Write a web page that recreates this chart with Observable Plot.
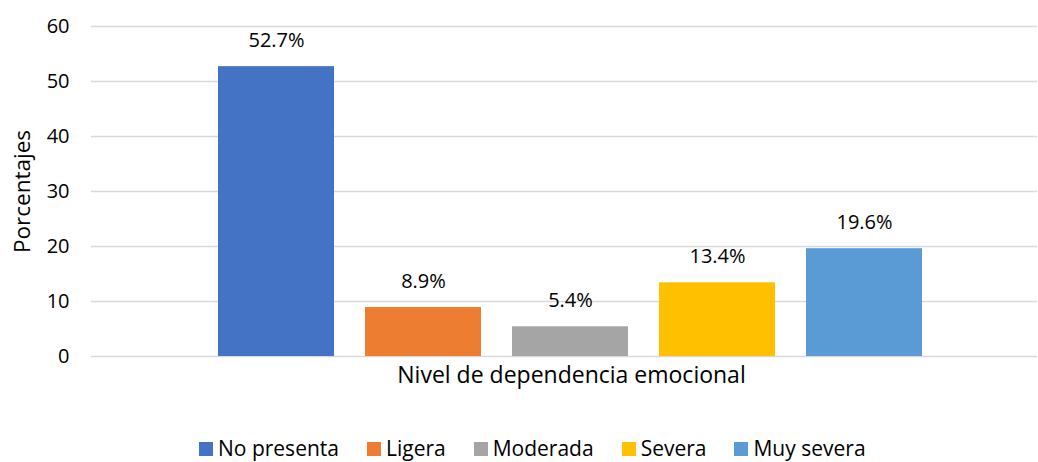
<!DOCTYPE html>
<html>
<head>
<meta charset="utf-8">
<script src="https://cdn.jsdelivr.net/npm/d3@7"></script>
<script src="https://cdn.jsdelivr.net/npm/@observablehq/plot@0.6"></script>
<style>
  body { margin: 0; background: #fff; font-family: "Open Sans", sans-serif; }
  #chart { width: 1038px; height: 462px; position: relative; }
  .legend { position: absolute; top: 434px; left: 199px; display: flex; font-size: 21px; color: #000; line-height: 29px; }
  .legend .item { display: flex; align-items: center; margin-right: 28px; }
  .legend .sw { width: 14px; height: 14px; margin-right: 5px; display: inline-block; }
</style>
</head>
<body>
<div id="chart"></div>
<script>
const categories = ["No presenta", "Ligera", "Moderada", "Severa", "Muy severa"];
const values = [52.7, 8.9, 5.4, 13.4, 19.6];
const colors = ["#4472C4", "#ED7D31", "#A5A5A5", "#FFC000", "#5B9BD5"];
const yTicks = [0, 10, 20, 30, 40, 50, 60];

const data = categories.map((c, i) => ({ category: c, value: values[i] }));

const plot = Plot.plot({
  width: 1038,
  height: 410,
  marginLeft: 91,
  marginRight: 1,
  marginTop: 26,
  marginBottom: 54,
  style: { fontFamily: "'Open Sans', sans-serif", fontSize: "20px", color: "#000", background: "#fff" },
  x: { domain: categories, range: [218, 923], paddingInner: 0.21, paddingOuter: 0, axis: null },
  y: { domain: [0, 60], axis: null },
  color: { domain: categories, range: colors },
  marks: [
    Plot.ruleY(yTicks, { stroke: "#d9d9d9", strokeWidth: 1.5 }),
    Plot.barY(data, { x: "category", y: "value", fill: "category" }),
    Plot.text(data, { x: "category", y: "value", text: d => d.value.toFixed(1) + "%", dy: -26, fontSize: 20, fill: "#000" }),
    Plot.axisY(yTicks, { tickSize: 0, tickPadding: 22, fontSize: 20, label: null }),
    Plot.text(["Porcentajes"], { frameAnchor: "left", textAnchor: "middle", dx: -69, rotate: -90, fontSize: 22.5, fill: "#000" }),
    Plot.text(["Nivel de dependencia emocional"], { frameAnchor: "bottom", dy: 26, dx: 7, fontSize: 23, fill: "#000" })
  ]
});
document.getElementById("chart").appendChild(plot);

const legend = document.createElement("div");
legend.className = "legend";
categories.forEach((c, i) => {
  const item = document.createElement("div");
  item.className = "item";
  const sw = document.createElement("span");
  sw.className = "sw";
  sw.style.background = colors[i];
  item.appendChild(sw);
  item.appendChild(document.createTextNode(c));
  legend.appendChild(item);
});
document.getElementById("chart").appendChild(legend);
</script>
</body>
</html>
